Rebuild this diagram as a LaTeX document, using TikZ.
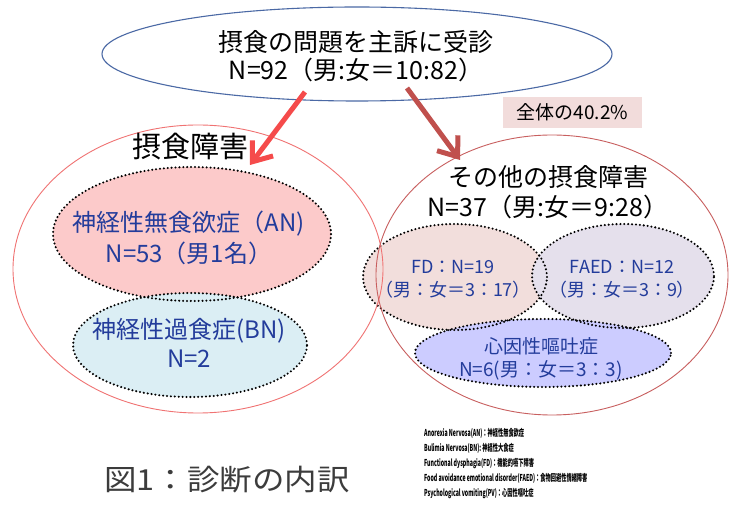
\documentclass[tikz,border=0pt]{standalone}
\usepackage{fontspec}
\setmainfont{Noto Sans CJK JP}
\usetikzlibrary{shapes.geometric,arrows.meta}
\definecolor{topblue}{RGB}{75,105,165}
\definecolor{ringL}{RGB}{240,115,115}
\definecolor{ringR}{RGB}{200,95,95}
\definecolor{arrL}{RGB}{245,75,75}
\definecolor{arrR}{RGB}{192,80,77}
\definecolor{anfill}{RGB}{252,202,202}
\definecolor{bnfill}{RGB}{219,238,244}
\definecolor{fdfill}{RGB}{242,222,220}
\definecolor{faedfill}{RGB}{229,224,236}
\definecolor{pvfill}{RGB}{204,204,255}
\definecolor{boxfill}{RGB}{242,220,219}
\definecolor{bluetext}{RGB}{35,60,155}
\definecolor{captext}{RGB}{60,60,60}
\newcommand\fsz[2]{\fontsize{#1}{#2}\selectfont}
\begin{document}
\begin{tikzpicture}[x=1pt,y=-1pt,
  blob/.style={ellipse, inner sep=0pt, draw=none},
  dotline/.style={draw=black, line width=2.3pt, dash pattern=on 0pt off 3.9pt, line cap=round},
  ring/.style={ellipse, inner sep=0pt, line width=0.9pt},
  txt/.style={align=center, inner sep=0pt},
  btxt/.style={txt, text=bluetext},
  bigarrow/.style={line width=5pt, -{Straight Barb[length=17pt,width=26pt]}}
]
\useasboundingbox (0,0) rectangle (729,510);
\fill[white] (0,0) rectangle (729,510);

% filled sub-ellipses
\node[blob, fill=anfill, minimum width=278pt, minimum height=134pt] (an) at (192,234) {};
\node[blob, fill=bnfill, minimum width=234pt, minimum height=104pt] (bn) at (190,345) {};
\node[blob, fill=fdfill, minimum width=184pt, minimum height=106pt] (fd) at (455,277) {};
\node[blob, fill=faedfill, minimum width=182pt, minimum height=104pt] (faed) at (623,276) {};
\node[blob, fill=pvfill, minimum width=256pt, minimum height=68pt] (pv) at (543,353) {};

% dotted borders
\draw[dotline] (an) ellipse [x radius=139pt, y radius=67pt];
\draw[dotline] (bn) ellipse [x radius=117pt, y radius=52pt];
\draw[dotline] (fd) ellipse [x radius=92pt, y radius=53pt];
\draw[dotline] (faed) ellipse [x radius=91pt, y radius=52pt];
\draw[dotline] (pv) ellipse [x radius=128pt, y radius=34pt];

% big rings
\node[ring, draw=ringL, minimum width=370pt, minimum height=288pt] (left) at (198,269) {};
\node[ring, draw=ringR, minimum width=352pt, minimum height=280pt] (right) at (552,275) {};

% top ellipse
\node[ellipse, draw=topblue, line width=1.1pt, fill=white, inner sep=0pt,
      minimum width=510pt, minimum height=94pt] (top) at (357,54) {};
\node[txt, font=\fsz{25}{28}] (toptext) at (356,56) {摂食の問題を主訴に受診\\N=92（男:女＝10:82）};

% labels
\node[txt, font=\fsz{29}{32}] (edtitle) at (190,147) {摂食障害};
\node[txt, font=\fsz{25}{30}] (othertitle) at (548,192) {その他の摂食障害\\N=37（男:女＝9:28）};
\node[txt, font=\fsz{19}{22}, fill=boxfill, minimum width=139pt, minimum height=31pt] (pct) at (572.5,112.5) {全体の40.2\%};

\node[btxt, font=\fsz{24}{31}] (antext) at (189,238) {神経性無食欲症（AN)\\N=53（男1名）};
\node[btxt, font=\fsz{24}{29}] (bntext) at (189,343) {神経性過食症(BN)\\N=2};
\node[btxt, font=\fsz{18}{23}] (fdtext) at (453,279) {FD：N=19\\（男：女＝3：17）};
\node[btxt, font=\fsz{18}{23}] (faedtext) at (622,279) {FAED：N=12\\（男：女＝3：9）};
\node[btxt, font=\fsz{19}{23}] (pvtext) at (541,359) {心因性嘔吐症\\N=6(男：女＝3：3)};

% caption
\node[txt, text=captext, font=\fsz{29}{32}] (caption) at (227,480) {\scalebox{1.12}[1]{図1：診断の内訳}};

% legend
\node[anchor=north west, inner sep=0pt, align=left] (legend) at (424,428)
  {\scalebox{0.55}[1]{\parbox[t]{320pt}{\raggedright\bfseries\fsz{9.5}{15}%
   Anorexia Nervosa(AN)：神経性無食欲症\\
   Bulimia Nervosa(BN): 神経性大食症\\
   Functional dysphagia(FD)：機能的嚥下障害\\
   Food avoidance emotional disorder(FAED)：食物回避性情緒障害\\
   Psychological vomiting(PV)：心因性嘔吐症}}};

% arrows
\coordinate (a1s) at (305,92);
\coordinate (a1e) at (250,165);
\coordinate (a2s) at (407,88);
\coordinate (a2e) at (460,160);
\draw[bigarrow, draw=arrL] (a1s) -- (a1e);
\draw[bigarrow, draw=arrR] (a2s) -- (a2e);
\end{tikzpicture}
\end{document}
